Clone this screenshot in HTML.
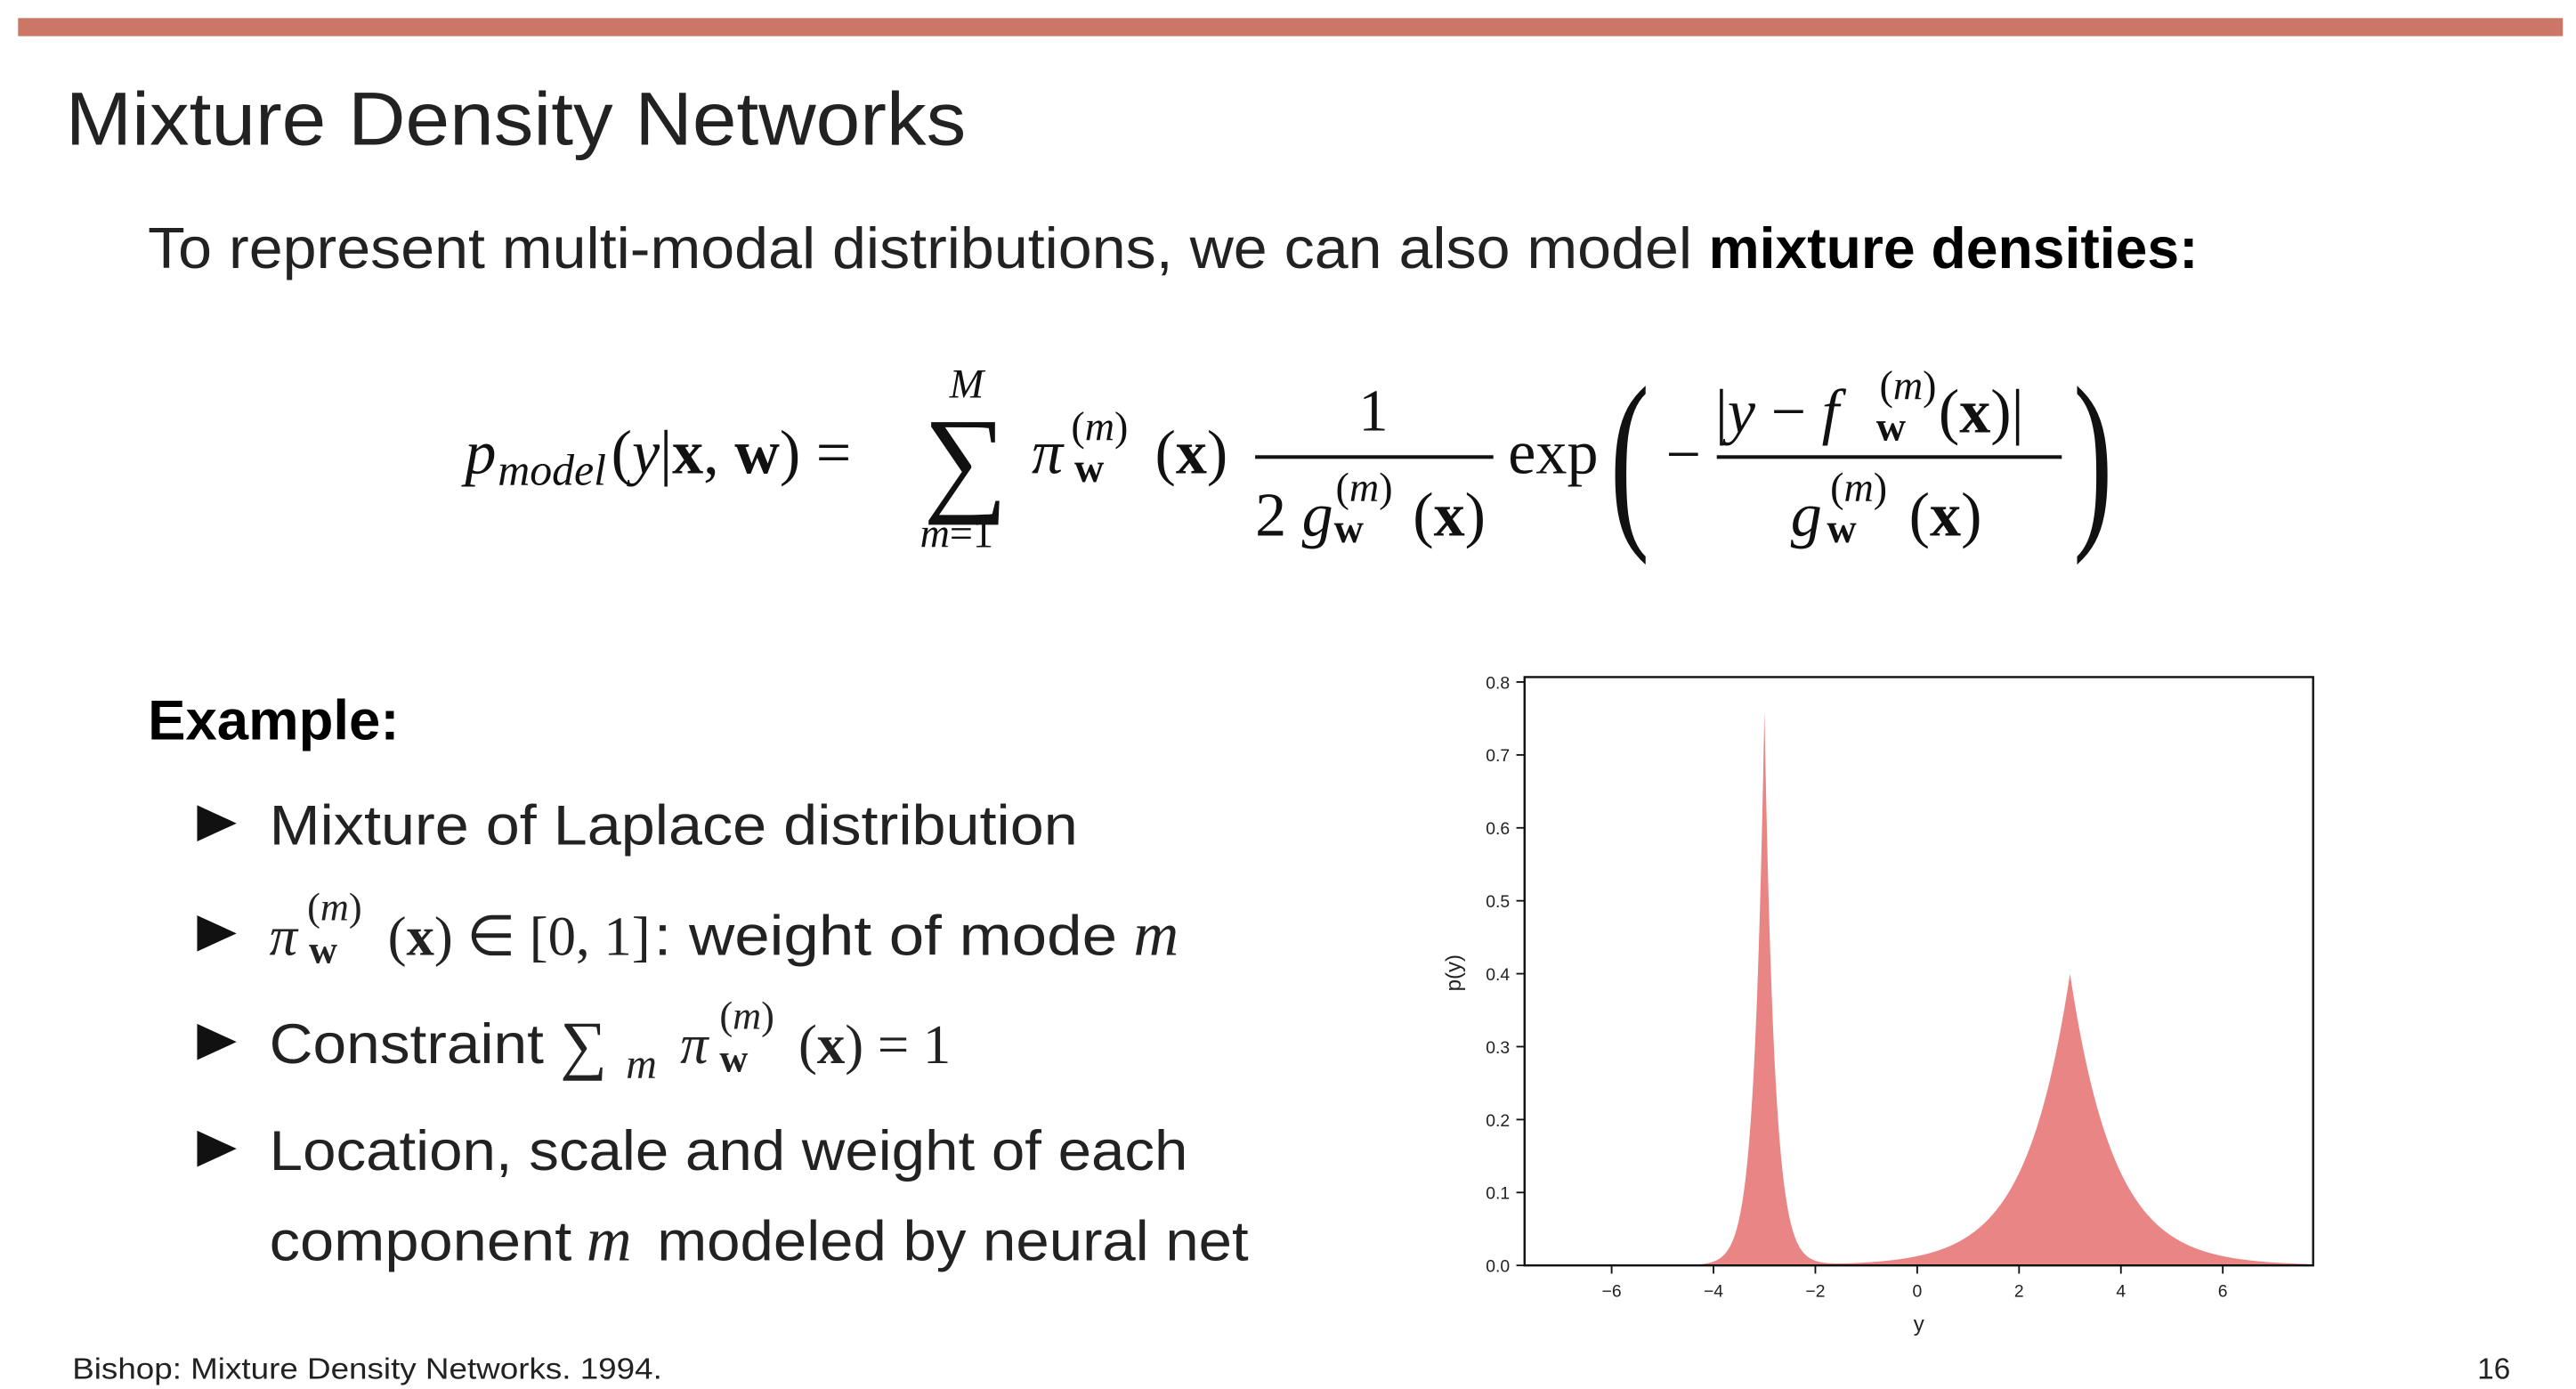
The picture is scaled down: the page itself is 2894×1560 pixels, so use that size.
<!DOCTYPE html>
<html><head><meta charset="utf-8"><style>
html,body{margin:0;padding:0;background:#fff;width:2894px;height:1560px;overflow:hidden}
svg{display:block}
.s{font-family:"Liberation Sans",sans-serif}
.m{font-family:"Liberation Serif",serif}
.i{font-style:italic}
.b{font-weight:bold}
</style></head><body>
<svg width="2894" height="1560" viewBox="0 0 1568 845.2" preserveAspectRatio="none">
<rect x="0" y="0" width="1568" height="846" fill="#fff"/>
<rect x="11" y="11" width="1549" height="11" fill="#cc7766"/>
<text x="40" y="88" class="s" font-size="46" fill="#222" textLength="548" lengthAdjust="spacingAndGlyphs">Mixture Density Networks</text>
<text x="90" y="163" class="s" font-size="35" fill="#222" textLength="940" lengthAdjust="spacingAndGlyphs">To represent multi-modal distributions, we can also model</text>
<text x="1040" y="163" class="s b" font-size="35" fill="#000" textLength="298" lengthAdjust="spacingAndGlyphs">mixture densities:</text>

<!-- equation -->
<g class="m" fill="#111">
<text x="283" y="288" font-size="38" class="i">p</text>
<text x="303" y="295" font-size="27" class="i">model</text>
<text x="372" y="288" font-size="38">(<tspan class="i">y</tspan>|<tspan class="b">x</tspan>, <tspan class="b">w</tspan>) =</text>
<text x="562" y="304" font-size="72">∑</text>
<text x="578" y="242" font-size="25" class="i">M</text>
<text x="560" y="333" font-size="25"><tspan class="i">m</tspan>=1</text>
<text x="628" y="288" font-size="38" class="i">π</text>
<text x="652" y="268" font-size="25">(<tspan class="i">m</tspan>)</text>
<text x="654" y="293" font-size="25" class="b">w</text>
<text x="703" y="288" font-size="38">(<tspan class="b">x</tspan>)</text>
<text x="827" y="262" font-size="36">1</text>
<rect x="764" y="277" width="145" height="2.2" fill="#111"/>
<text x="764" y="326" font-size="38">2 <tspan class="i">g</tspan></text>
<text x="813" y="305" font-size="25">(<tspan class="i">m</tspan>)</text>
<text x="812" y="330" font-size="25" class="b">w</text>
<text x="860" y="326" font-size="38">(<tspan class="b">x</tspan>)</text>
<text x="918" y="288" font-size="38">exp</text>
<text x="980" y="318" font-size="120" transform="translate(980 300) scale(0.6 1) translate(-980 -300)">(</text>
<text x="1262" y="318" font-size="120" transform="translate(1262 300) scale(0.6 1) translate(-1262 -300)">)</text>
<text x="1014" y="289" font-size="38">−</text>
<text x="1044" y="263" font-size="38">|<tspan class="i">y</tspan> − <tspan class="i">f</tspan></text>
<text x="1144" y="243" font-size="25">(<tspan class="i">m</tspan>)</text>
<text x="1142" y="268" font-size="25" class="b">w</text>
<text x="1180" y="263" font-size="38">(<tspan class="b">x</tspan>)|</text>
<rect x="1045" y="277" width="210" height="2.2" fill="#111"/>
<text x="1090" y="326" font-size="38" class="i">g</text>
<text x="1114" y="305" font-size="25">(<tspan class="i">m</tspan>)</text>
<text x="1112" y="330" font-size="25" class="b">w</text>
<text x="1162" y="326" font-size="38">(<tspan class="b">x</tspan>)</text>
</g>

<text x="90" y="450" class="s b" font-size="34" fill="#000" textLength="153" lengthAdjust="spacingAndGlyphs">Example:</text>
<g fill="#111">
<polygon points="120,490 144,501 120,512"/>
<polygon points="120,557 144,568 120,579"/>
<polygon points="120,623 144,634 120,645"/>
<polygon points="120,688 144,699 120,710"/>
</g>
<g class="s" font-size="34" fill="#222">
<text x="164" y="514" textLength="492" lengthAdjust="spacingAndGlyphs">Mixture of Laplace distribution</text>
<text x="164" y="581" class="m i" font-size="34">π</text>
<text x="187" y="560" class="m" font-size="24">(<tspan class="i">m</tspan>)</text>
<text x="188" y="586" class="m b" font-size="24">w</text>
<text x="236" y="581" class="m" font-size="34">(<tspan class="b">x</tspan>) ∈ [0, 1]</text>
<text x="398" y="581" textLength="282" lengthAdjust="spacingAndGlyphs">: weight of mode</text>
<text x="690" y="581" class="m i" font-size="38">m</text>
<text x="164" y="647" textLength="167" lengthAdjust="spacingAndGlyphs">Constraint</text>
<text x="341" y="649" class="m" font-size="40">∑</text>
<text x="381" y="656" class="m i" font-size="26">m</text>
<text x="414" y="647" class="m i" font-size="34">π</text>
<text x="438" y="626" class="m" font-size="24">(<tspan class="i">m</tspan>)</text>
<text x="438" y="652" class="m b" font-size="24">w</text>
<text x="486" y="647" class="m" font-size="34">(<tspan class="b">x</tspan>) = 1</text>
<text x="164" y="712" textLength="559" lengthAdjust="spacingAndGlyphs">Location, scale and weight of each</text>
<text x="164" y="767" textLength="184" lengthAdjust="spacingAndGlyphs">component</text>
<text x="357" y="767" class="m i" font-size="38">m</text>
<text x="400" y="767" textLength="360" lengthAdjust="spacingAndGlyphs">modeled by neural net</text>
</g>

<text x="44" y="839" class="s" font-size="18" fill="#222" textLength="359" lengthAdjust="spacingAndGlyphs">Bishop: Mixture Density Networks. 1994.</text>
<text x="1508" y="839" class="s" font-size="18" fill="#222">16</text>

<!-- plot -->
<path id="curve" fill="#e98585" d=""/>
<rect x="928" y="412" width="480" height="358" fill="none" stroke="#111" stroke-width="1.3"/>
<g class="s" font-size="10.5" fill="#222" text-anchor="end" id="yt"></g>
<g class="s" font-size="10.5" fill="#222" text-anchor="middle" id="xt"></g>
<text x="1168" y="810" class="s" font-size="13" fill="#222" text-anchor="middle">y</text>
<text x="0" y="0" class="s" font-size="13" fill="#222" text-anchor="middle" transform="translate(889 592) rotate(-90)">p(y)</text>
</svg>
<script>
var X=function(x){return 1167+31*x},Y=function(p){return 770-443.75*p};
function f(x){return 0.304*Math.exp(-Math.abs(x+3)/0.2)/(0.4)+0.696*Math.exp(-Math.abs(x-3)/0.87)/(1.74)}
var pts=[];for(var x=-7.7;x<=7.7;x+=0.01)pts.push(x);pts.push(-3,3);pts.sort(function(a,b){return a-b});
var d="M"+X(-7.7)+","+Y(0);pts.forEach(function(x){d+="L"+X(x).toFixed(2)+","+Y(f(x)).toFixed(2)});d+="L"+X(7.7)+","+Y(0)+"Z";
document.getElementById('curve').setAttribute('d',d);
var ns="http://www.w3.org/2000/svg",yt=document.getElementById('yt'),xt=document.getElementById('xt'),s=document.querySelector('svg');
for(var i=0;i<=8;i++){var p=i/10,y=Y(p);var t=document.createElementNS(ns,'text');t.setAttribute('x',919);t.setAttribute('y',y+4);t.textContent=p.toFixed(1);yt.appendChild(t);
var l=document.createElementNS(ns,'line');l.setAttribute('x1',923);l.setAttribute('x2',928);l.setAttribute('y1',y);l.setAttribute('y2',y);l.setAttribute('stroke','#111');s.appendChild(l);}
[-6,-4,-2,0,2,4,6].forEach(function(v){var x=X(v);var t=document.createElementNS(ns,'text');t.setAttribute('x',x);t.setAttribute('y',789);t.textContent=(v<0?'\u2212':'')+Math.abs(v);xt.appendChild(t);
var l=document.createElementNS(ns,'line');l.setAttribute('x1',x);l.setAttribute('x2',x);l.setAttribute('y1',770);l.setAttribute('y2',775);l.setAttribute('stroke','#111');s.appendChild(l);});
</script>
</body></html>
